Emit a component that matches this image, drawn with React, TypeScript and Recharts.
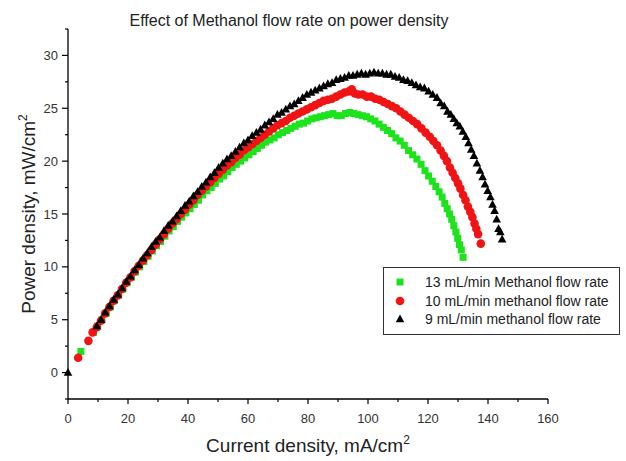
import React from 'react';
import { ScatterChart, Scatter, XAxis, YAxis, Legend } from 'recharts';

const FONT = '"Liberation Sans", Arial, sans-serif';

const xTicks = [0, 10, 20, 30, 40, 50, 60, 70, 80, 90, 100, 110, 120, 130, 140, 150, 160];
const yTicks = [-2.5, 0, 2.5, 5, 7.5, 10, 12.5, 15, 17.5, 20, 22.5, 25, 27.5, 30, 32.5];

// [current density, power density]
const flow13: [number, number][] = [
  [4.3, 2.0], [8.5, 3.8], [9.9, 4.4], [11.3, 5.0], [12.7, 5.6], [14.1, 6.2], [15.5, 6.8], [16.9, 7.3],
  [18.3, 7.9], [19.7, 8.5], [21.1, 9.0], [22.5, 9.5], [23.9, 10.0], [25.3, 10.5], [26.7, 11.0], [28.1, 11.5],
  [29.5, 12.0], [30.9, 12.4], [32.3, 12.9], [33.7, 13.4], [35.1, 13.8], [36.5, 14.3], [37.9, 14.7], [39.3, 15.1],
  [40.7, 15.5], [42.1, 15.9], [43.5, 16.3], [44.9, 16.8], [46.3, 17.2], [47.7, 17.5], [49.1, 17.9], [50.5, 18.3],
  [51.9, 18.6], [53.3, 19.0], [54.7, 19.4], [56.1, 19.7], [57.5, 20.0], [58.9, 20.3], [60.3, 20.6], [61.7, 20.9],
  [63.1, 21.2], [64.5, 21.5], [65.9, 21.8], [67.3, 22.0], [68.7, 22.2], [70.1, 22.5], [71.5, 22.7], [72.9, 22.9],
  [74.3, 23.1], [75.7, 23.3], [77.1, 23.5], [78.5, 23.6], [79.9, 23.8], [81.3, 24.0], [82.7, 24.1], [84.1, 24.2],
  [85.5, 24.3], [86.9, 24.4], [88.3, 24.5], [89.7, 24.3], [91.1, 24.3], [92.5, 24.5], [93.9, 24.6], [95.3, 24.5],
  [96.7, 24.4], [98.1, 24.3], [99.5, 24.2], [100.9, 24.0], [102.3, 23.8], [103.7, 23.5], [105.1, 23.2], [106.5, 22.9],
  [107.9, 22.6], [109.3, 22.2], [110.7, 21.9], [112.1, 21.5], [113.5, 21.0], [114.9, 20.6], [116.3, 20.2], [117.7, 19.7],
  [119.0, 19.1], [120.2, 18.6], [121.4, 18.1], [122.6, 17.6], [123.7, 17.1], [124.7, 16.6], [125.6, 16.0], [126.4, 15.5],
  [127.2, 15.0], [127.9, 14.5], [128.6, 13.9], [129.3, 13.3], [129.9, 12.7], [130.5, 12.1], [131.1, 11.6], [131.7, 10.9],
];

const flow10: [number, number][] = [
  [3.4, 1.4], [6.8, 3.0], [8.2, 3.8], [9.6, 4.3], [11.0, 4.9], [12.4, 5.6], [13.8, 6.2], [15.2, 6.8],
  [16.6, 7.3], [18.0, 7.9], [19.4, 8.5], [20.8, 9.0], [22.2, 9.6], [23.6, 10.1], [25.0, 10.6], [26.4, 11.1],
  [27.8, 11.6], [29.2, 12.1], [30.6, 12.6], [32.0, 13.1], [33.4, 13.6], [34.8, 14.1], [36.2, 14.5], [37.6, 15.0],
  [39.0, 15.4], [40.4, 15.9], [41.8, 16.3], [43.2, 16.8], [44.6, 17.2], [46.0, 17.6], [47.4, 18.0], [48.8, 18.4],
  [50.2, 18.8], [51.6, 19.2], [53.0, 19.6], [54.4, 19.9], [55.8, 20.3], [57.2, 20.6], [58.6, 21.0], [60.0, 21.3],
  [61.4, 21.6], [62.8, 21.9], [64.2, 22.2], [65.6, 22.5], [67.0, 22.8], [68.4, 23.1], [69.8, 23.4], [71.2, 23.6],
  [72.6, 23.8], [74.0, 24.1], [75.4, 24.3], [76.8, 24.5], [78.2, 24.7], [79.6, 24.9], [81.0, 25.1], [82.4, 25.3],
  [83.8, 25.5], [85.2, 25.7], [86.6, 25.8], [88.0, 25.9], [89.4, 26.1], [90.8, 26.3], [92.2, 26.5], [93.6, 26.6],
  [94.6, 26.8], [95.6, 26.4], [96.8, 26.3], [98.2, 26.3], [99.6, 26.1], [101.0, 26.1], [102.4, 25.9], [103.8, 25.8],
  [105.2, 25.6], [106.6, 25.4], [108.0, 25.2], [109.4, 25.0], [110.8, 24.7], [112.2, 24.4], [113.6, 24.1], [115.0, 23.8],
  [116.4, 23.5], [117.8, 23.1], [119.2, 22.7], [120.6, 22.3], [121.8, 21.9], [123.0, 21.5], [124.2, 21.0], [125.3, 20.5],
  [126.3, 20.0], [127.3, 19.4], [128.2, 18.9], [129.1, 18.4], [130.0, 17.9], [130.8, 17.4], [131.7, 16.8], [132.5, 16.3],
  [133.3, 15.7], [134.1, 15.2], [134.8, 14.7], [135.5, 14.1], [136.1, 13.6], [136.7, 13.1], [137.6, 12.2],
];

const flow9: [number, number][] = [
  [0, 0], [9.6, 4.4], [11.0, 5.0], [12.4, 5.7], [13.8, 6.3], [15.2, 6.9], [16.6, 7.4], [18.0, 8.0],
  [19.4, 8.6], [20.8, 9.1], [22.2, 9.7], [23.6, 10.2], [25.0, 10.8], [26.4, 11.3], [27.8, 11.9], [29.2, 12.4],
  [30.6, 12.8], [32.0, 13.4], [33.4, 13.9], [34.8, 14.3], [36.2, 14.8], [37.6, 15.3], [39.0, 15.8], [40.4, 16.2],
  [41.8, 16.7], [43.2, 17.1], [44.6, 17.6], [46.0, 18.0], [47.4, 18.5], [48.8, 18.9], [50.2, 19.4], [51.6, 19.8],
  [53.0, 20.2], [54.4, 20.5], [55.8, 20.9], [57.2, 21.3], [58.6, 21.7], [60.0, 22.0], [61.4, 22.4], [62.8, 22.7],
  [64.2, 23.0], [65.6, 23.4], [67.0, 23.7], [68.4, 24.0], [69.8, 24.4], [71.2, 24.6], [72.6, 24.9], [74.0, 25.2],
  [75.4, 25.4], [76.8, 25.7], [78.2, 26.0], [79.6, 26.3], [81.0, 26.5], [82.4, 26.7], [83.8, 26.9], [85.2, 27.1],
  [86.6, 27.3], [88.0, 27.4], [89.4, 27.7], [90.8, 27.8], [92.2, 27.9], [93.6, 28.1], [95.0, 28.1], [96.4, 28.2],
  [97.8, 28.3], [99.2, 28.2], [100.6, 28.3], [102.0, 28.4], [103.4, 28.3], [104.8, 28.3], [106.2, 28.2], [107.6, 28.2],
  [109.0, 28.0], [110.4, 27.9], [111.8, 27.7], [113.2, 27.6], [114.6, 27.4], [116.0, 27.2], [117.4, 27.0], [118.8, 26.9],
  [120.2, 26.6], [121.6, 26.3], [123.0, 26.0], [124.2, 25.5], [125.4, 25.2], [126.5, 24.7], [127.6, 24.4], [128.6, 24.0],
  [129.6, 23.6], [130.6, 23.3], [131.6, 22.8], [132.6, 22.3], [133.5, 21.7], [134.4, 21.1], [135.3, 20.5], [136.3, 19.8],
  [137.3, 19.1], [138.2, 18.5], [139.0, 17.8], [139.9, 17.2], [140.8, 16.6], [141.5, 15.9], [142.2, 15.3], [142.9, 14.5],
  [143.5, 13.6], [144.1, 13.3], [144.7, 12.6],
];

const seriesNames = [
  '13 mL/min Methanol flow rate',
  '10 mL/min methanol flow rate',
  '9 mL/min methanol flow rate',
];

const GREEN = '#1de31d';
const RED = '#f01414';
const BLACK = '#000';

const toPts = (arr: [number, number][]) => arr.map(([x, y]) => ({ x, y }));

const Square = (p: any) => <rect x={p.cx - 3.5} y={p.cy - 3.5} width={7} height={7} fill={GREEN} />;
const Dot = (p: any) => <circle cx={p.cx} cy={p.cy} r={4.3} fill={RED} />;
const Tri = (p: any) => (
  <polygon points={`${p.cx},${p.cy - 4.6} ${p.cx - 4.3},${p.cy + 3.2} ${p.cx + 4.3},${p.cy + 3.2}`} fill={BLACK} />
);

const XTick = (props: any) => {
  const { x, y, payload } = props;
  const major = payload.value % 20 === 0;
  return (
    <g>
      <line x1={x} y1={y} x2={x} y2={y + (major ? 5 : 3)} stroke="#000" strokeWidth={1.2} />
      {major && (
        <text x={x} y={y + 24} textAnchor="middle" fontSize={13} fontFamily={FONT} fill="#333">
          {payload.value}
        </text>
      )}
    </g>
  );
};

const YTick = (props: any) => {
  const { x, y, payload } = props;
  const major = payload.value % 5 === 0;
  return (
    <g>
      <line x1={x - (major ? 6 : 3)} y1={y} x2={x} y2={y} stroke="#000" strokeWidth={1.2} />
      {major && (
        <text x={x - 10} y={y + 4.5} textAnchor="end" fontSize={13} fontFamily={FONT} fill="#333">
          {payload.value}
        </text>
      )}
    </g>
  );
};

const XTitle = () => (
  <text x={308} y={452} textAnchor="middle" fontSize={19} fontFamily={FONT} fill="#222">
    Current density, mA/cm<tspan dy={-8} fontSize={12}>2</tspan>
  </text>
);

const YTitle = () => (
  <text x={35} y={214} transform="rotate(-90, 35, 214)" textAnchor="middle" fontSize={19} fontFamily={FONT} fill="#222">
    Power density, mW/cm<tspan dy={-8} fontSize={12}>2</tspan>
  </text>
);

const markers = [
  (cx: number, cy: number) => <rect x={cx - 3.5} y={cy - 3.5} width={7} height={7} fill={GREEN} />,
  (cx: number, cy: number) => <circle cx={cx} cy={cy} r={4.3} fill={RED} />,
  (cx: number, cy: number) => (
    <polygon points={`${cx},${cy - 4.6} ${cx - 4.3},${cy + 3.2} ${cx + 4.3},${cy + 3.2}`} fill={BLACK} />
  ),
];

const LegendBox = () => (
  <div
    style={{
      border: '1px solid #333',
      background: '#fff',
      padding: '5px 0',
      fontFamily: FONT,
      fontSize: 14,
      color: '#222',
      boxSizing: 'border-box',
    }}
  >
    {seriesNames.map((name, i) => (
      <div key={name} style={{ display: 'flex', alignItems: 'center', height: 18.5 }}>
        <svg width={32} height={12} style={{ flex: 'none' }}>
          {markers[i](16, 6)}
        </svg>
        <span style={{ marginLeft: 9, whiteSpace: 'nowrap' }}>{name}</span>
      </div>
    ))}
  </div>
);

export default function App() {
  return (
    <div style={{ position: 'absolute', left: 0, top: 0, width: 626, height: 461, background: '#fff' }}>
      <svg width={626} height={40} style={{ position: 'absolute', left: 0, top: 0 }}>
        <text x={289} y={26} textAnchor="middle" fontSize={16} fontFamily={FONT} fill="#222">
          Effect of Methanol flow rate on power density
        </text>
      </svg>
      <ScatterChart width={626} height={461} margin={{ top: 29, right: 78, bottom: 22, left: 8 }}>
        <XAxis
          type="number"
          dataKey="x"
          domain={[0, 160]}
          ticks={xTicks}
          interval={0}
          height={40}
          tickSize={0}
          tickMargin={0}
          tickLine={false}
          tick={<XTick />}
          axisLine={{ stroke: '#000', strokeWidth: 1.3 }}
          label={{ content: XTitle }}
        />
        <YAxis
          type="number"
          dataKey="y"
          domain={[-2.5, 32.5]}
          ticks={yTicks}
          interval={0}
          width={60}
          tickSize={0}
          tickMargin={0}
          tickLine={false}
          tick={<YTick />}
          axisLine={{ stroke: '#000', strokeWidth: 1.3 }}
          label={{ content: YTitle }}
        />
        <Legend
          layout="vertical"
          align="center"
          verticalAlign="middle"
          content={LegendBox}
          wrapperStyle={{ left: 383, top: 267, width: 237 }}
        />
        <Scatter name={seriesNames[0]} data={toPts(flow13)} shape={Square} isAnimationActive={false} />
        <Scatter name={seriesNames[1]} data={toPts(flow10)} shape={Dot} isAnimationActive={false} />
        <Scatter name={seriesNames[2]} data={toPts(flow9)} shape={Tri} isAnimationActive={false} />
      </ScatterChart>
    </div>
  );
}
